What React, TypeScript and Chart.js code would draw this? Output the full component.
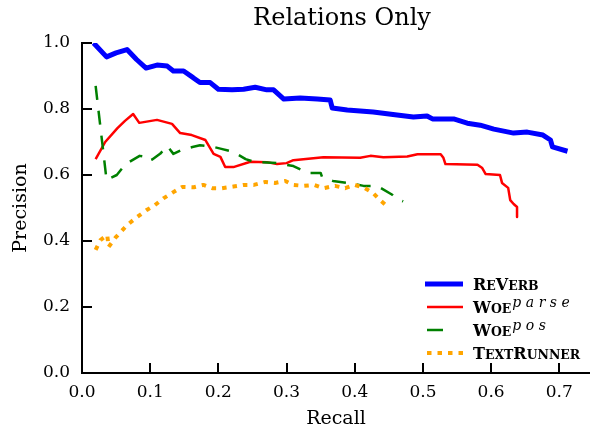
import React, { useEffect, useRef } from 'react';
import { Chart, registerables } from 'chart.js';

Chart.register(...registerables);

const SERIF = '"DejaVu Serif", "Liberation Serif", serif';

const TITLE = 'Relations Only';
const X_LABEL = 'Recall';
const Y_LABEL = 'Precision';
const X_MIN = 0;
const X_MAX = 0.745;
const Y_MIN = 0;
const Y_MAX = 1.0;
const X_TICKS = [0, 0.1, 0.2, 0.3, 0.4, 0.5, 0.6, 0.7];
const Y_TICKS = [0, 0.2, 0.4, 0.6, 0.8, 1.0];

const SERIES_NAMES = ['ReVerb', 'Woe', 'Woe', 'TextRunner'];
const SERIES_SUPS = ['', 'parse', 'pos', ''];

const REVERB_RECALL = [0.017, 0.036, 0.05, 0.066, 0.08, 0.094, 0.11, 0.125, 0.134, 0.149, 0.163, 0.173, 0.188, 0.2, 0.22, 0.237, 0.254, 0.271, 0.281, 0.296, 0.32, 0.345, 0.364, 0.367, 0.389, 0.427, 0.462, 0.486, 0.506, 0.514, 0.545, 0.565, 0.584, 0.604, 0.633, 0.653, 0.676, 0.687, 0.69, 0.712];
const REVERB_PRECISION = [1.0, 0.958, 0.97, 0.98, 0.95, 0.924, 0.933, 0.93, 0.915, 0.915, 0.895, 0.88, 0.88, 0.86, 0.858, 0.86, 0.866, 0.858, 0.858, 0.83, 0.833, 0.83, 0.827, 0.803, 0.797, 0.791, 0.782, 0.776, 0.779, 0.77, 0.77, 0.757, 0.751, 0.739, 0.727, 0.73, 0.721, 0.706, 0.685, 0.672];

const WOEPARSE_RECALL = [0.02, 0.034, 0.052, 0.063, 0.075, 0.084, 0.11, 0.132, 0.144, 0.161, 0.181, 0.193, 0.203, 0.21, 0.222, 0.247, 0.271, 0.286, 0.3, 0.31, 0.354, 0.408, 0.423, 0.442, 0.477, 0.492, 0.526, 0.53, 0.533, 0.58, 0.587, 0.592, 0.613, 0.616, 0.625, 0.628, 0.633, 0.638, 0.638];
const WOEPARSE_PRECISION = [0.648, 0.7, 0.742, 0.764, 0.785, 0.758, 0.767, 0.755, 0.727, 0.721, 0.706, 0.664, 0.655, 0.624, 0.624, 0.64, 0.639, 0.633, 0.636, 0.645, 0.654, 0.652, 0.658, 0.654, 0.656, 0.663, 0.663, 0.652, 0.633, 0.631, 0.621, 0.603, 0.6, 0.576, 0.561, 0.524, 0.512, 0.503, 0.473];

const WOEPOS_RECALL = [0.02, 0.036, 0.051, 0.064, 0.0845, 0.093, 0.098, 0.103, 0.115, 0.125, 0.134, 0.145, 0.162, 0.173, 0.193, 0.203, 0.222, 0.24, 0.252, 0.286, 0.31, 0.332, 0.35, 0.352, 0.368, 0.39, 0.413, 0.433, 0.455, 0.46, 0.471];
const WOEPOS_PRECISION = [0.87, 0.585, 0.6, 0.633, 0.658, 0.655, 0.643, 0.647, 0.665, 0.688, 0.664, 0.675, 0.685, 0.69, 0.685, 0.68, 0.67, 0.648, 0.64, 0.636, 0.627, 0.606, 0.606, 0.594, 0.582, 0.576, 0.567, 0.567, 0.54, 0.53, 0.52];

const TEXTRUNNER_RECALL = [0.02, 0.027, 0.037, 0.039, 0.049, 0.066, 0.081, 0.095, 0.107, 0.12, 0.134, 0.147, 0.164, 0.178, 0.191, 0.205, 0.222, 0.237, 0.252, 0.269, 0.283, 0.298, 0.31, 0.325, 0.34, 0.354, 0.371, 0.386, 0.4, 0.415, 0.427, 0.437, 0.449];
const TEXTRUNNER_PRECISION = [0.373, 0.403, 0.418, 0.382, 0.41, 0.448, 0.473, 0.494, 0.509, 0.53, 0.548, 0.564, 0.563, 0.57, 0.56, 0.56, 0.565, 0.57, 0.57, 0.579, 0.576, 0.582, 0.57, 0.567, 0.57, 0.56, 0.567, 0.56, 0.57, 0.56, 0.545, 0.524, 0.503];

const COLORS = ['#0000ff', '#ff0000', '#008000', '#ffa500'];
const WIDTHS = [5, 2.5, 2.5, 4];
const DASHES: number[][] = [[], [], [14, 11], [4.5, 6]];
const LEGEND_DASHES: number[][] = [[], [], [16, 40], [4.5, 6]];

function zip(xs: number[], ys: number[]) {
  return xs.map((x, i) => ({ x, y: ys[i] }));
}

function drawSmallCaps(ctx: CanvasRenderingContext2D, text: string, x: number, y: number, size: number) {
  let cx = x;
  for (const ch of text) {
    const up = ch.toUpperCase();
    const isLower = ch !== up;
    const s = isLower ? size * 0.78 : size;
    ctx.font = `bold ${s}px ${SERIF}`;
    ctx.fillText(up, cx, y);
    cx += ctx.measureText(up).width;
  }
  return cx;
}

function drawSpaced(ctx: CanvasRenderingContext2D, text: string, x: number, y: number, spacing: number) {
  let cx = x;
  for (const ch of text) {
    ctx.fillText(ch, cx, y);
    cx += ctx.measureText(ch).width + spacing;
  }
}

const decorPlugin = {
  id: 'decor',
  afterDraw(chart: any) {
    const { ctx, chartArea } = chart;
    const xs = chart.scales.x;
    const ys = chart.scales.y;
    ctx.save();
    // inward ticks
    ctx.strokeStyle = '#000';
    ctx.lineWidth = 2;
    ctx.setLineDash([]);
    ctx.beginPath();
    for (const v of X_TICKS) {
      const px = Math.round(xs.getPixelForValue(v));
      ctx.moveTo(px, chartArea.bottom);
      ctx.lineTo(px, chartArea.bottom - 10);
    }
    for (const v of Y_TICKS) {
      const py = Math.round(ys.getPixelForValue(v));
      ctx.moveTo(chartArea.left, py);
      ctx.lineTo(chartArea.left + 10, py);
    }
    ctx.stroke();

    // title
    ctx.fillStyle = '#000';
    ctx.font = `24px ${SERIF}`;
    ctx.textAlign = 'center';
    ctx.textBaseline = 'alphabetic';
    ctx.fillText(TITLE, (chartArea.left + chartArea.right) / 2 + 6, chartArea.top - 18);

    // legend
    const lx = chartArea.right - 165;
    const ly = chartArea.bottom - 89;
    const rowH = 23;
    ctx.textAlign = 'left';
    for (let i = 0; i < SERIES_NAMES.length; i++) {
      const y = ly + i * rowH;
      ctx.strokeStyle = COLORS[i];
      ctx.lineWidth = WIDTHS[i];
      ctx.lineCap = 'butt';
      ctx.setLineDash(LEGEND_DASHES[i]);
      ctx.beginPath();
      const x0 = i === 0 ? lx : lx + 2;
      ctx.moveTo(x0, y);
      ctx.lineTo(lx + 38, y);
      ctx.stroke();
      ctx.setLineDash([]);
      ctx.fillStyle = '#000';
      const endX = drawSmallCaps(ctx, SERIES_NAMES[i], lx + 48, y + 6, 16);
      if (SERIES_SUPS[i]) {
        ctx.font = `italic 14px ${SERIF}`;
        drawSpaced(ctx, SERIES_SUPS[i], endX + 1, y, 4.5);
      }
    }
    ctx.restore();
  },
};

export default function App() {
  const ref = useRef<HTMLCanvasElement | null>(null);
  useEffect(() => {
    if (!ref.current) return;
    const recalls = [REVERB_RECALL, WOEPARSE_RECALL, WOEPOS_RECALL, TEXTRUNNER_RECALL];
    const precs = [REVERB_PRECISION, WOEPARSE_PRECISION, WOEPOS_PRECISION, TEXTRUNNER_PRECISION];
    const datasets = recalls.map((r, i) => ({
      label: SERIES_NAMES[i] + SERIES_SUPS[i],
      data: zip(r, precs[i]),
      borderColor: COLORS[i],
      backgroundColor: COLORS[i],
      borderWidth: WIDTHS[i],
      borderDash: DASHES[i],
      borderCapStyle: 'butt' as const,
      borderJoinStyle: 'round' as const,
      pointRadius: 0,
      tension: 0,
      fill: false,
      order: 3 - i,
    }));
    const tickFont = { family: SERIF, size: 17 };
    const chart = new Chart(ref.current, {
      type: 'line',
      data: { datasets },
      options: {
        animation: false,
        responsive: false,
        devicePixelRatio: 1,
        layout: { padding: { top: 43, left: 0, right: 0, bottom: 0 } },
        plugins: {
          legend: { display: false },
          title: { display: false },
          tooltip: { enabled: false },
        },
        scales: {
          x: {
            type: 'linear',
            min: X_MIN,
            max: X_MAX,
            afterBuildTicks: (s: any) => {
              s.ticks = X_TICKS.map((v) => ({ value: v }));
            },
            afterFit: (s: any) => {
              s.height = 56;
            },
            grid: { display: false, drawTicks: false },
            border: { display: true, color: '#000', width: 2 },
            ticks: {
              padding: 9,
              font: tickFont,
              color: '#000',
              maxRotation: 0,
              autoSkip: false,
              callback: (v: any) => Number(v).toFixed(1),
            },
            title: {
              display: true,
              text: X_LABEL,
              color: '#000',
              font: { family: SERIF, size: 19, lineHeight: 1 },
              padding: { top: 0, bottom: 0 },
            },
          },
          y: {
            type: 'linear',
            min: Y_MIN,
            max: Y_MAX,
            afterBuildTicks: (s: any) => {
              s.ticks = Y_TICKS.map((v) => ({ value: v }));
            },
            afterFit: (s: any) => {
              s.width = 82;
            },
            grid: { display: false, drawTicks: false },
            border: { display: true, color: '#000', width: 2 },
            ticks: {
              padding: 12,
              font: tickFont,
              color: '#000',
              autoSkip: false,
              callback: (v: any) => Number(v).toFixed(1),
            },
            title: {
              display: true,
              text: Y_LABEL,
              color: '#000',
              font: { family: SERIF, size: 19, lineHeight: 1 },
              padding: { top: 12, bottom: 0 },
            },
          },
        },
      },
      plugins: [decorPlugin],
    });
    return () => chart.destroy();
  }, []);
  return (
    <div style={{ position: 'fixed', left: 0, top: 0, width: 590, height: 429, background: '#fff' }}>
      <canvas ref={ref} width={590} height={429} style={{ display: 'block' }} />
    </div>
  );
}
